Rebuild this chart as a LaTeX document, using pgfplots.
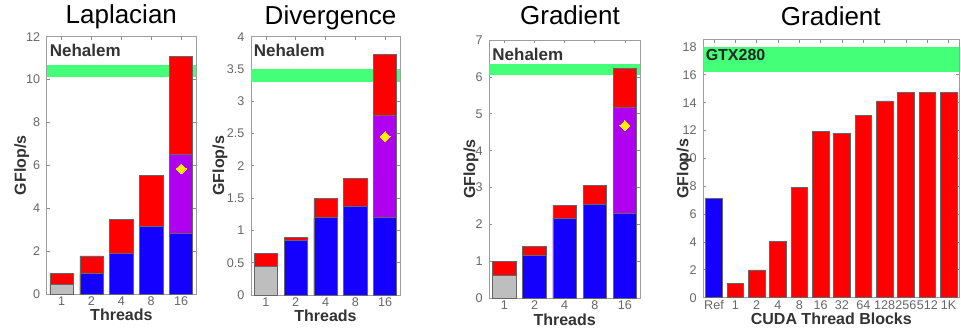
\documentclass[border=0pt]{standalone}
\usepackage{pgfplots}
\pgfplotsset{compat=1.18}
\usepackage{fontspec}
\setmainfont{Liberation Sans}
\definecolor{cblue}{RGB}{20,0,255}
\definecolor{cred}{RGB}{255,0,0}
\definecolor{cpurple}{RGB}{176,0,240}
\definecolor{cgreen}{RGB}{68,255,120}
\definecolor{cgray}{RGB}{190,190,190}
\definecolor{cyellow}{RGB}{255,238,0}
\tikzset{tag/.style={anchor=west, inner sep=0pt, font=\bfseries\fontsize{8.5}{9}\selectfont, text=black!80}}
\pgfplotsset{
  barstyle/.style={ybar, bar shift=0pt, draw=black!60, line width=0.3pt},
  diam/.style={only marks, color=cyellow, mark=square*, mark size=1.75pt, mark options={rotate=45, draw=cyellow, fill=cyellow, line width=0pt}},
  panel/.style={
    scale only axis, anchor=south west,
    axis line style={draw=black!38, line width=0.5pt},
    tick align=inside, major tick length=1.5pt,
    tick style={draw=black!45, line width=0.4pt},
    ticklabel style={font=\fontsize{6.3}{7}\selectfont, text=black!60},
    /pgf/number format/assume math mode=true,
    xticklabel style={anchor=center, yshift=-3.6pt},
    yticklabel style={anchor=east, xshift=0.2pt},
    label style={font=\bfseries\fontsize{8}{9}\selectfont, text=black!80},
    xlabel style={at={(axis description cs:0.5,0)}, anchor=center, yshift=-10.5pt},
    ymin=0,
    bar width=0.78,
  },
  threads/.style={
    panel, xmin=0.5, xmax=5.5, xtick={1,2,3,4,5}, xticklabels={1,2,4,8,16},
    xlabel={Threads}, ylabel={GFlop/s},
  },
}
\begin{document}
\begin{tikzpicture}
\path[use as bounding box] (0pt,0pt) rectangle (480.5pt,166pt);

% Laplacian
\begin{axis}[threads, at={(23.35pt,19pt)}, width=74.65pt, height=128.65pt,
  ymax=12, ytick={0,2,4,6,8,10,12},
  ylabel style={at={(axis description cs:-0.167,0.5)}, anchor=center}]
\addplot[fill=cgreen, draw=none] coordinates {(0.5,10.1) (5.5,10.1) (5.5,10.7) (0.5,10.7)} -- cycle;
\addplot[barstyle, fill=cred] coordinates {(1,0.96) (2,1.78) (3,3.47) (4,5.52) (5,11.08)};
\addplot[barstyle, fill=cpurple] coordinates {(5,6.53)};
\addplot[barstyle, fill=cblue] coordinates {(2,0.96) (3,1.89) (4,3.14) (5,2.83)};
\addplot[barstyle, fill=cgray] coordinates {(1,0.46)};
\addplot[diam] coordinates {(5,5.83)};
\node[tag] at (axis description cs:0.018,0.948) {Nehalem};
\end{axis}

% Divergence
\begin{axis}[threads, at={(125.5pt,18.5pt)}, width=74.5pt, height=129.15pt,
  ymax=4, ytick={0,0.5,1,1.5,2,2.5,3,3.5,4},
  ylabel style={at={(axis description cs:-0.208,0.5)}, anchor=center}]
\addplot[fill=cgreen, draw=none] coordinates {(0.5,3.30) (5.5,3.30) (5.5,3.50) (0.5,3.50)} -- cycle;
\addplot[barstyle, fill=cred] coordinates {(1,0.64) (2,0.89) (3,1.49) (4,1.81) (5,3.72)};
\addplot[barstyle, fill=cpurple] coordinates {(5,2.79)};
\addplot[barstyle, fill=cblue] coordinates {(2,0.85) (3,1.20) (4,1.38) (5,1.20)};
\addplot[barstyle, fill=cgray] coordinates {(1,0.44)};
\addplot[diam] coordinates {(5,2.45)};
\node[tag] at (axis description cs:0.016,0.946) {Nehalem};
\end{axis}

% Gradient (Nehalem)
\begin{axis}[threads, at={(244.65pt,16.85pt)}, width=75.35pt, height=129.15pt,
  ymax=7, ytick={0,1,2,3,4,5,6,7},
  ylabel style={at={(axis description cs:-0.121,0.5)}, anchor=center}]
\addplot[fill=cgreen, draw=none] coordinates {(0.5,6.06) (5.5,6.06) (5.5,6.36) (0.5,6.36)} -- cycle;
\addplot[barstyle, fill=cred] coordinates {(1,1.01) (2,1.41) (3,2.51) (4,3.05) (5,6.23)};
\addplot[barstyle, fill=cpurple] coordinates {(5,5.18)};
\addplot[barstyle, fill=cblue] coordinates {(2,1.17) (3,2.17) (4,2.55) (5,2.31)};
\addplot[barstyle, fill=cgray] coordinates {(1,0.63)};
\addplot[diam] coordinates {(5,4.68)};
\node[tag] at (axis description cs:0.018,0.946) {Nehalem};
\end{axis}

% Gradient (GTX280)
\begin{axis}[panel, at={(351.65pt,17.15pt)}, width=128pt, height=128.85pt,
  xmin=-0.5, xmax=11.5, xtick={0,...,11},
  xticklabels={Ref,1,2,4,8,16,32,64,128,256,512,1K},
  ymax=18.5, ytick={0,2,4,6,8,10,12,14,16,18},
  bar width=0.77,
  xlabel={CUDA Thread Blocks}, ylabel={GFlop/s},
  ylabel style={at={(axis description cs:-0.075,0.5)}, anchor=center}]
\addplot[fill=cgreen, draw=none] coordinates {(-0.5,16.2) (11.5,16.2) (11.5,18.0) (-0.5,18.0)} -- cycle;
\addplot[barstyle, fill=cblue] coordinates {(0,7.13)};
\addplot[barstyle, fill=cred] coordinates {(1,1.0) (2,2.0) (3,4.05) (4,7.92) (5,11.91) (6,11.79) (7,13.06) (8,14.13) (9,14.71) (10,14.76) (11,14.76)};
\node[tag, font=\bfseries\fontsize{8}{9}\selectfont, text=black!85] at (axis description cs:0.008,0.942) {GTX280};
\end{axis}

\node[anchor=base, font=\fontsize{13}{15}\selectfont] at (60.65pt,154.25pt) {Laplacian};
\node[anchor=base, font=\fontsize{13}{15}\selectfont] at (165.25pt,153.5pt) {Divergence};
\node[anchor=base, font=\fontsize{13}{15}\selectfont] at (285pt,153.5pt) {Gradient};
\node[anchor=base, font=\fontsize{13}{15}\selectfont] at (415.4pt,153pt) {Gradient};
\end{tikzpicture}
\end{document}
